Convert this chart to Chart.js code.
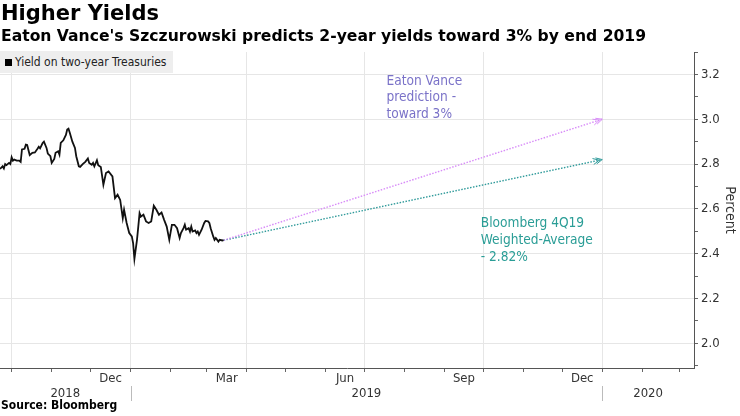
<!DOCTYPE html>
<html>
<head>
<meta charset="utf-8">
<script src="https://cdn.jsdelivr.net/npm/chart.js@4.4.1/dist/chart.umd.min.js"></script>
<style>
  body { margin: 0; background: #fff; }
  #wrap { position: relative; width: 740px; height: 416px; overflow: hidden;
          font-family: 'DejaVu Sans Condensed', 'DejaVu Sans', sans-serif; font-stretch: condensed; color: #000; }
  #chart { position: absolute; left: 0; top: 0; }
  #title { position: absolute; left: 1px; top: 1px; font-family: 'DejaVu Sans', sans-serif; font-stretch: normal;
           font-size: 21px; font-weight: bold; white-space: nowrap; }
  #subtitle { position: absolute; left: 1px; top: 27px; font-family: 'DejaVu Sans', sans-serif; font-stretch: normal;
              font-size: 15.6px; font-weight: bold; white-space: nowrap; }
  #source { position: absolute; left: 1px; top: 398px; font-size: 12px; font-weight: bold; }
  #legend { position: absolute; left: 0; top: 51px; height: 22px; line-height: 22px; padding: 0 7px 0 5px;
            background: #eeeeee; font-size: 12px; color: #222; white-space: nowrap; }
  #legend i { display: inline-block; width: 7px; height: 7px; background: #000; margin-right: 3px; vertical-align: 0; }
</style>
</head>
<body>
<div id="wrap">
  <canvas id="chart" width="740" height="416"></canvas>
  <div id="title">Higher Yields</div>
  <div id="subtitle">Eaton Vance's Szczurowski predicts 2-year yields toward 3% by end 2019</div>
  <div id="legend"><i></i><span id="legendText"></span></div>
  <div id="source">Source: Bloomberg</div>
</div>
<script>
// yield on two-year Treasuries
const dates = [
  '2018-09-22','2018-09-24','2018-09-25','2018-09-26','2018-09-27','2018-09-29','2018-09-30',
  '2018-10-01','2018-10-02','2018-10-03','2018-10-05','2018-10-07','2018-10-08','2018-10-09',
  '2018-10-11','2018-10-12','2018-10-13','2018-10-15','2018-10-17','2018-10-19','2018-10-21',
  '2018-10-22','2018-10-23','2018-10-25','2018-10-26','2018-10-28','2018-10-29','2018-10-31',
  '2018-11-01','2018-11-03','2018-11-04','2018-11-06','2018-11-07','2018-11-08','2018-11-10',
  '2018-11-12','2018-11-13','2018-11-14','2018-11-15','2018-11-17','2018-11-19','2018-11-20',
  '2018-11-22','2018-11-23','2018-11-25','2018-11-27','2018-11-29','2018-11-30',
  '2018-12-02','2018-12-03','2018-12-04','2018-12-06','2018-12-07','2018-12-09','2018-12-11',
  '2018-12-13','2018-12-15','2018-12-18','2018-12-20','2018-12-22','2018-12-24','2018-12-26',
  '2018-12-27','2018-12-29','2018-12-31',
  '2019-01-02','2019-01-03','2019-01-04','2019-01-06','2019-01-07','2019-01-08','2019-01-09',
  '2019-01-11','2019-01-13','2019-01-15','2019-01-17','2019-01-19','2019-01-21','2019-01-23',
  '2019-01-25','2019-01-27','2019-01-29','2019-01-31',
  '2019-02-02','2019-02-04','2019-02-06','2019-02-08','2019-02-09','2019-02-11','2019-02-12',
  '2019-02-13','2019-02-15','2019-02-16','2019-02-17','2019-02-18','2019-02-20','2019-02-21',
  '2019-02-22','2019-02-23','2019-02-25','2019-02-27','2019-02-28',
  '2019-03-02','2019-03-03','2019-03-04','2019-03-06','2019-03-07','2019-03-08','2019-03-10',
  '2019-03-11','2019-03-13','2019-03-14'
];
const yields = [
  2.778,2.79,2.78,2.80,2.795,2.805,2.80,
  2.83,2.815,2.82,2.815,2.815,2.81,2.865,
  2.868,2.887,2.885,2.84,2.85,2.852,2.868,
  2.877,2.87,2.894,2.90,2.872,2.847,2.835,
  2.805,2.823,2.85,2.857,2.842,2.894,2.906,
  2.93,2.954,2.958,2.94,2.90,2.872,2.835,
  2.79,2.787,2.80,2.81,2.825,2.805,
  2.797,2.805,2.79,2.817,2.795,2.787,2.708,
  2.76,2.767,2.745,2.648,2.663,2.64,2.559,
  2.596,2.537,2.492,
  2.477,2.447,2.377,2.462,2.521,2.581,2.566,
  2.574,2.544,2.537,2.544,2.614,2.596,2.574,
  2.584,2.551,2.521,2.462,
  2.529,2.529,2.514,2.47,2.492,2.514,2.529,
  2.507,2.514,2.499,2.521,2.499,2.504,2.492,
  2.499,2.484,2.507,2.537,2.546,
  2.544,2.537,2.514,2.477,2.462,2.47,2.454,
  2.462,2.459,2.461
];
const seriesName = 'Yield on two-year Treasuries';

// projections to end 2019
const projDates = ['2019-03-14', '2020-01-01'];
const eatonVance = [2.46, 3.00];
const bloomberg4Q19 = [2.46, 2.82];

// axis labels
const monthLabels = ['Dec', 'Mar', 'Jun', 'Sep', 'Dec'];
const monthLabelMonths = ['2018-12', '2019-03', '2019-06', '2019-09', '2019-12'];
const yearLabels = ['2018', '2019', '2020'];
const yTickValues = [1.9, 2.0, 2.1, 2.2, 2.3, 2.4, 2.5, 2.6, 2.7, 2.8, 2.9, 3.0, 3.1, 3.2, 3.3];

const notes = [
  { lines: ['Eaton Vance', 'prediction -', 'toward 3%'], color: '#7a72c8', date: '2019-07-18', value: 3.17 },
  { lines: ['Bloomberg 4Q19', 'Weighted-Average', '- 2.82%'], color: '#2a9d96', date: '2019-09-29', value: 2.533 }
];

const FONT = "'DejaVu Sans Condensed', 'DejaVu Sans', sans-serif";
const BASE = Date.UTC(2019, 0, 1);
function dayOf(s) {
  const p = s.split('-').map(Number);
  return (Date.UTC(p[0], p[1] - 1, p[2] || 1) - BASE) / 86400000;
}
function nextMonth(s) {
  let [y, m] = s.split('-').map(Number);
  m++; if (m > 12) { m = 1; y++; }
  return y + '-' + String(m).padStart(2, '0');
}

const xMin = dayOf('2018-09-22');
const xMax = dayOf('2020-03-12');

// month starts for ticks
const monthStarts = [];
for (let s = '2018-10'; dayOf(s) <= xMax; s = nextMonth(s)) monthStarts.push(s);
const quarterDays = monthStarts.filter(s => (Number(s.split('-')[1]) - 1) % 3 === 0).map(dayOf);
const yearStartDays = monthStarts.filter(s => s.endsWith('-01')).map(dayOf);

document.getElementById('legendText').textContent = seriesName;

const axisText = {
  id: 'axisText',
  afterDraw(chart) {
    const { ctx, scales: { x }, chartArea } = chart;
    ctx.save();
    ctx.font = '13px ' + FONT;
    ctx.fillStyle = '#333';
    ctx.textAlign = 'center';
    ctx.textBaseline = 'middle';
    monthLabels.forEach((t, i) => {
      const a = dayOf(monthLabelMonths[i]), b = dayOf(nextMonth(monthLabelMonths[i]));
      ctx.fillText(t, x.getPixelForValue((a + b) / 2), chartArea.bottom + 11);
    });
    const bounds = [xMin].concat(yearStartDays, [xMax]);
    yearLabels.forEach((t, i) => {
      ctx.fillText(t, x.getPixelForValue((bounds[i] + bounds[i + 1]) / 2), chartArea.bottom + 26);
    });
    ctx.strokeStyle = '#bbbbbb';
    ctx.lineWidth = 1;
    yearStartDays.forEach(d => {
      const px = Math.round(x.getPixelForValue(d)) + 0.5;
      ctx.beginPath();
      ctx.moveTo(px, chartArea.bottom + 18);
      ctx.lineTo(px, chartArea.bottom + 33);
      ctx.stroke();
    });
    // notes
    ctx.font = '13.6px ' + FONT;
    notes.forEach(n => {
      ctx.fillStyle = n.color;
      ctx.textAlign = 'left';
      const px = x.getPixelForValue(dayOf(n.date));
      const py = chart.scales.y.getPixelForValue(n.value);
      n.lines.forEach((l, k) => ctx.fillText(l, px, py + k * 16.7));
    });
    ctx.restore();
  },
  afterDatasetsDraw(chart) {
    const { ctx } = chart;
    [1, 2].forEach(i => {
      const pts = chart.getDatasetMeta(i).data;
      const p0 = pts[pts.length - 2], p1 = pts[pts.length - 1];
      const ang = Math.atan2(p1.y - p0.y, p1.x - p0.x);
      ctx.save();
      ctx.strokeStyle = chart.data.datasets[i].borderColor;
      ctx.lineWidth = 1;
      for (const off of [0, 3]) {
        const tx = p1.x - off * Math.cos(ang), ty = p1.y - off * Math.sin(ang);
        ctx.beginPath();
        ctx.moveTo(tx - 7 * Math.cos(ang - 0.45), ty - 7 * Math.sin(ang - 0.45));
        ctx.lineTo(tx, ty);
        ctx.lineTo(tx - 7 * Math.cos(ang + 0.45), ty - 7 * Math.sin(ang + 0.45));
        ctx.stroke();
      }
      ctx.restore();
    });
  }
};

new Chart(document.getElementById('chart'), {
  type: 'line',
  data: {
    datasets: [
      {
        label: seriesName,
        data: dates.map((d, i) => ({ x: dayOf(d), y: yields[i] })),
        borderColor: '#111', borderWidth: 1.8, pointRadius: 0, tension: 0
      },
      {
        label: 'Eaton Vance prediction',
        data: projDates.map((d, i) => ({ x: dayOf(d), y: eatonVance[i] })),
        borderColor: '#d88cf8', borderWidth: 1.4, borderDash: [1.5, 1.5], pointRadius: 0
      },
      {
        label: 'Bloomberg 4Q19 Weighted-Average',
        data: projDates.map((d, i) => ({ x: dayOf(d), y: bloomberg4Q19[i] })),
        borderColor: '#2f9a9a', borderWidth: 1.4, borderDash: [1.5, 1.5], pointRadius: 0
      }
    ]
  },
  options: {
    responsive: false,
    animation: false,
    layout: { padding: { top: 52, left: 0, right: 0, bottom: 0 } },
    plugins: { legend: { display: false }, tooltip: { enabled: false } },
    scales: {
      x: {
        type: 'linear', min: xMin, max: xMax,
        afterBuildTicks: s => { s.ticks = monthStarts.map(m => ({ value: dayOf(m) })); },
        afterFit: s => { s.height = 48; },
        ticks: { display: false },
        grid: {
          color: c => quarterDays.includes(c.tick && c.tick.value) ? '#e6e6e6' : 'rgba(0,0,0,0)',
          tickColor: '#666', tickLength: 4
        },
        border: { color: '#555', width: 1 }
      },
      y: {
        position: 'right', min: 1.89, max: 3.3,
        afterBuildTicks: s => { s.ticks = yTickValues.map(v => ({ value: v })); },
        afterFit: s => { s.width = 46; },
        ticks: {
          padding: 3, color: '#333', font: { family: FONT, size: 13 },
          callback: v => Math.round(v * 10) % 2 === 0 && v < 3.25 ? v.toFixed(1) : ''
        },
        grid: {
          color: c => (c.tick && Math.round(c.tick.value * 10) % 2 === 0 && c.tick.value < 3.25) ? '#e6e6e6' : 'rgba(0,0,0,0)',
          tickColor: '#666', tickLength: 4
        },
        border: { color: '#555', width: 1 },
        title: { display: true, text: 'Percent', color: '#333', font: { family: FONT, size: 14 }, padding: { top: 2, bottom: 2 } }
      }
    }
  },
  plugins: [axisText]
});
</script>
</body>
</html>
